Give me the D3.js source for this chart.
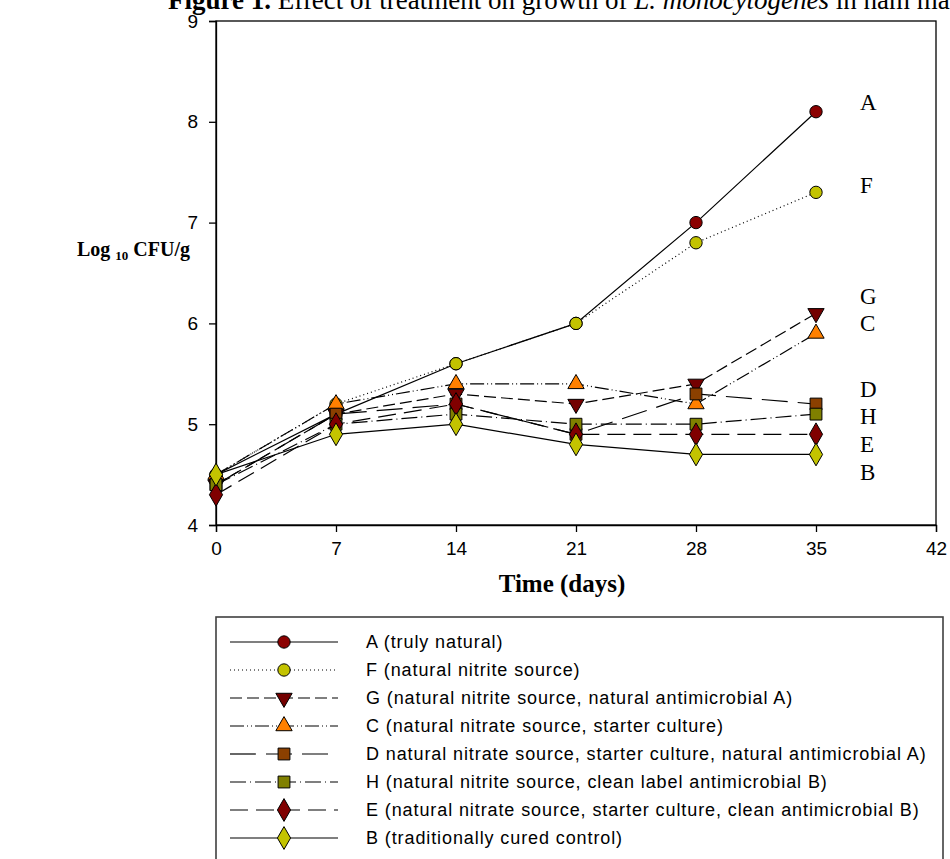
<!DOCTYPE html>
<html>
<head>
<meta charset="utf-8">
<script src="https://cdn.jsdelivr.net/npm/d3@7"></script>
<style>
  body { margin: 0; background: #fff; }
  svg { display: block; }
</style>
</head>
<body>
<svg width="950" height="859"></svg>
<script>
// data
var days = [0, 7, 14, 21, 28, 35];
var xTicks = [0, 7, 14, 21, 28, 35, 42];
var yTicks = [4, 5, 6, 7, 8, 9];
var seriesNames = ["A", "F", "G", "C", "D", "H", "E", "B"];
var valsA = [4.5, 5.1, 5.6, 6.0, 7.0, 8.1];
var valsF = [4.5, 5.2, 5.6, 6.0, 6.8, 7.3];
var valsG = [4.4, 5.1, 5.3, 5.2, 5.4, 6.1];
var valsC = [4.5, 5.2, 5.4, 5.4, 5.2, 5.9];
var valsD = [4.4, 5.1, 5.2, 4.9, 5.3, 5.2];
var valsH = [4.4, 5.0, 5.1, 5.0, 5.0, 5.1];
var valsE = [4.3, 5.0, 5.2, 4.9, 4.9, 4.9];
var valsB = [4.5, 4.9, 5.0, 4.8, 4.7, 4.7];
var legendLabels = [
  "A (truly natural)",
  "F (natural nitrite source)",
  "G (natural nitrite source, natural antimicrobial A)",
  "C (natural nitrate source, starter culture)",
  "D natural nitrate source, starter culture, natural antimicrobial A)",
  "H (natural nitrite source, clean label antimicrobial B)",
  "E (natural nitrate source, starter culture, clean antimicrobial B)",
  "B (traditionally cured control)"
];

// styling per series
var styles = [
  {vals: valsA, sym: d3.symbolCircle, size: 120, fill: "#8b0000", dash: null},
  {vals: valsF, sym: d3.symbolCircle, size: 120, fill: "#c3c300", dash: "1,3"},
  {vals: valsG, sym: d3.symbolTriangle, size: 115, fill: "#730000", dash: "12,5", rot: 180},
  {vals: valsC, sym: d3.symbolTriangle, size: 115, fill: "#ff8000", dash: "14,3,1,3,1,3"},
  {vals: valsD, sym: d3.symbolSquare, size: 140, fill: "#8b4000", dash: "26,10"},
  {vals: valsH, sym: d3.symbolSquare, size: 140, fill: "#808000", dash: "16,4,1,4"},
  {vals: valsE, sym: d3.symbolDiamond, size: 150, fill: "#800000", dash: "18,8"},
  {vals: valsB, sym: d3.symbolDiamond, size: 150, fill: "#c3c300", dash: null}
];
// end label y positions (value units) next to the plot
var endLabelY = [8.2, 7.37, 6.27, 6.0, 5.35, 5.08, 4.8, 4.53];

var svg = d3.select("svg");

var x = d3.scaleLinear().domain([0, 42]).range([216, 936]);
var y = d3.scaleLinear().domain([4, 9]).range([525, 21]);

// title (cut off at the top of the page)
var title = svg.append("text")
  .attr("x", 168).attr("y", 9)
  .style("font-family", "'Liberation Serif', 'Times New Roman', serif")
  .style("font-size", "27px");
title.append("tspan").style("font-weight", "bold").text("Figure 1.");
title.append("tspan").text(" Effect of treatment on growth of ");
title.append("tspan").style("font-style", "italic").text("L. monocytogenes");
title.append("tspan").text(" in ham made with");

// frame
svg.append("rect")
  .attr("x", 216).attr("y", 21)
  .attr("width", 720).attr("height", 504)
  .attr("fill", "none").attr("stroke", "#000").attr("stroke-width", 1.3);

var xAxis = svg.append("g")
  .attr("transform", "translate(0,525)")
  .call(d3.axisBottom(x).tickValues(xTicks).tickSize(7).tickPadding(10));
var yAxis = svg.append("g")
  .attr("transform", "translate(216,0)")
  .call(d3.axisLeft(y).tickValues(yTicks).tickFormat(d3.format("d")).tickSize(7).tickPadding(11));

[xAxis, yAxis].forEach(function(g) {
  g.select(".domain").attr("stroke", "#000").attr("stroke-width", 1.3);
  g.selectAll(".tick line").attr("stroke", "#000").attr("stroke-width", 1.3);
  g.selectAll(".tick text")
    .attr("fill", "#000")
    .style("font-family", "'Liberation Sans', Arial, sans-serif")
    .style("font-size", "19px");
});

// axis titles
svg.append("text")
  .attr("x", 562).attr("y", 592)
  .attr("text-anchor", "middle")
  .style("font-family", "'Liberation Serif', 'Times New Roman', serif")
  .style("font-weight", "bold").style("font-size", "25px")
  .text("Time (days)");

var yLab = svg.append("text")
  .attr("x", 190).attr("y", 256)
  .attr("text-anchor", "end")
  .style("font-family", "'Liberation Serif', 'Times New Roman', serif")
  .style("font-weight", "bold").style("font-size", "20px");
yLab.append("tspan").text("Log ");
yLab.append("tspan").style("font-size", "13px").attr("dy", 4).text("10");
yLab.append("tspan").attr("dy", -4).text(" CFU/g");

var line = d3.line()
  .x(function(d) { return x(d.day); })
  .y(function(d) { return y(d.v); });

styles.forEach(function(s, i) {
  var pts = days.map(function(d, j) { return {day: d, v: s.vals[j]}; });
  svg.append("path")
    .datum(pts)
    .attr("d", line)
    .attr("fill", "none")
    .attr("stroke", "#000")
    .attr("stroke-width", 1.2)
    .attr("stroke-dasharray", s.dash);
  svg.selectAll(".m" + i)
    .data(pts)
    .enter().append("path")
    .attr("class", "m" + i)
    .attr("d", d3.symbol().type(s.sym).size(s.size))
    .attr("transform", function(d) {
      return "translate(" + x(d.day) + "," + y(d.v) + ")" + (s.rot ? " rotate(" + s.rot + ")" : "");
    })
    .attr("fill", s.fill)
    .attr("stroke", "#000")
    .attr("stroke-width", 1);

  svg.append("text")
    .attr("x", 860).attr("y", y(endLabelY[i]))
    .attr("dy", "0.35em")
    .style("font-family", "'Liberation Serif', 'Times New Roman', serif")
    .style("font-size", "23px")
    .text(seriesNames[i]);
});

// legend
svg.append("rect")
  .attr("x", 216).attr("y", 617)
  .attr("width", 727).attr("height", 260)
  .attr("fill", "none").attr("stroke", "#404040").attr("stroke-width", 1.6);

var legY = d3.scalePoint().domain(d3.range(8)).range([642, 838]);

styles.forEach(function(s, i) {
  var ly = legY(i);
  svg.append("line")
    .attr("x1", 230).attr("x2", 338)
    .attr("y1", ly).attr("y2", ly)
    .attr("stroke", "#000").attr("stroke-width", 1.2)
    .attr("stroke-dasharray", s.dash);
  svg.append("path")
    .attr("d", d3.symbol().type(s.sym).size(s.size))
    .attr("transform", "translate(284," + ly + ")" + (s.rot ? " rotate(" + s.rot + ")" : ""))
    .attr("fill", s.fill).attr("stroke", "#000").attr("stroke-width", 1);
  svg.append("text")
    .attr("x", 366).attr("y", ly)
    .attr("dy", "0.35em")
    .style("font-family", "'Liberation Sans', Arial, sans-serif")
    .style("font-size", "18px")
    .style("letter-spacing", "0.9px")
    .text(legendLabels[i]);
});
</script>
</body>
</html>
